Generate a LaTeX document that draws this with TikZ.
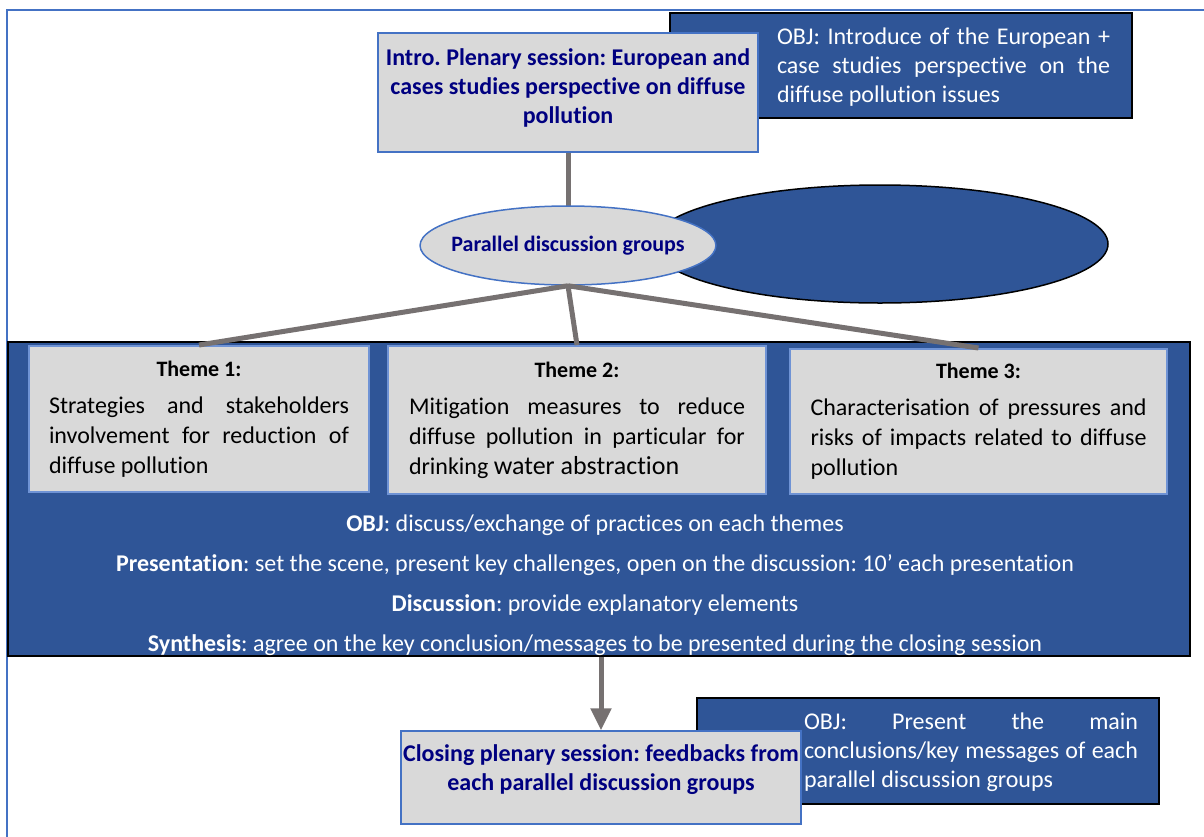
\documentclass[tikz,border=0pt]{standalone}
\usepackage{fontspec}
\setmainfont{Carlito}[Ligatures={NoCommon,NoRare,NoContextual}]
\usetikzlibrary{positioning,shapes.geometric,arrows.meta}
\definecolor{objblue}{HTML}{2F5597}
\definecolor{boxgrey}{HTML}{D9D9D9}
\definecolor{edgeblue}{HTML}{4472C4}
\definecolor{lightedge}{HTML}{6F93D5}
\definecolor{navytext}{HTML}{000080}
\definecolor{linkgrey}{HTML}{767171}
\newcommand{\bodysize}{\fontsize{24}{29}\selectfont}
\newcommand{\themesize}{\fontsize{24}{30}\selectfont}
\newcommand{\titlesize}{\fontsize{22}{27}\selectfont}
\frenchspacing
\begin{document}
\begin{tikzpicture}[x=1pt, y=-1pt, inner sep=0pt,
    frame/.style = {draw=edgeblue, line width=2pt},
    greybox/.style = {draw=edgeblue, fill=boxgrey, line width=1.5pt},
    objbox/.style = {draw=black, fill=objblue, line width=1.5pt},
    theme/.style = {draw=lightedge, fill=boxgrey, line width=2pt, align=justify, font=\themesize},
    head/.style = {font=\bodysize\bfseries, text=navytext, align=center},
    objtext/.style = {font=\bodysize, text=white, align=justify},
    link/.style = {draw=linkgrey, line width=5pt}]
    \useasboundingbox (0,0) rectangle (1204,836);
    \draw[frame] (7,10) rectangle (1220,850);
    %Intro
    \node[objbox, minimum width=462, minimum height=105] (objtop) at (901,65.5) {};
    \node[objtext, text width=333] (objtoptext) at (943.5,67) {OBJ: Introduce of the European +\linebreak case studies perspective on the\linebreak diffuse pollution issues};
    \node[greybox, minimum width=380, minimum height=119] (intro) at (568,92.5) {};
    \node[head] (introtext) at (568,88) {Intro. Plenary session: European and\\ cases studies perspective on diffuse\\ pollution};
    \node[objbox, ellipse, minimum width=456, minimum height=118] (blank) at (880,244) {};
    \draw[link] (intro) to (568,220);
    %Parallel groups
    \node[objbox, minimum width=1182, minimum height=314] (groups) at (599,499) {};
    \node[greybox, ellipse, inner xsep=-12pt, minimum width=289, minimum height=79, font=\titlesize\bfseries, text=navytext] (par) at (568,245.5) {Parallel discussion groups};
    \node[theme, text width=300, minimum width=340, minimum height=146] (t1) at (199,419) {{\centering\titlesize\bfseries Theme 1:\par}\vspace{7pt}Strategies and stakeholders\linebreak involvement for reduction of\linebreak diffuse pollution};
    \node[theme, text width=336, minimum width=378, minimum height=148] (t2) at (577,420) {{\centering\titlesize\bfseries Theme 2:\par}\vspace{7pt}Mitigation measures to reduce\linebreak diffuse pollution in particular for\linebreak drinking {\fontsize{26}{30}\selectfont water abstraction}};
    \node[theme, text width=336, minimum width=377, minimum height=145] (t3) at (978.5,421.5) {{\centering\titlesize\bfseries Theme 3:\par}\vspace{7pt}Characterisation of pressures and\linebreak risks of impacts related to diffuse\linebreak pollution};
    \draw[link] (par.south) to (t1.north);
    \draw[link] (par.south) to (t2.north);
    \draw[link] (par.south) to (t3.north);
    \node[font=\fontsize{24}{40}\selectfont, text=white, align=center] (rules) at (595,585) {\textbf{OBJ}: discuss/exchange of practices on each themes\\ \textbf{Presentation}: set the scene, present key challenges, open on the discussion: 10’ each presentation\\ \textbf{Discussion}: provide explanatory elements\\ \textbf{Synthesis}: agree on the key conclusion/messages to be presented during the closing session};
    %Closing
    \node[objbox, minimum width=462, minimum height=106] (objclose) at (928,751) {};
    \node[objtext, text width=334] (objclosetext) at (971,752) {OBJ: Present the main\linebreak conclusions/key messages of each\linebreak parallel discussion groups};
    \node[greybox, minimum width=400, minimum height=93] (close) at (601,777.5) {};
    \node[head] (closetext) at (601,769.5) {Closing plenary session: feedbacks from\\ each parallel discussion groups};
    \draw[link, -{Triangle[width=20pt,length=22pt]}] (close.north |- groups.south) to (close.north);
\end{tikzpicture}
\end{document}
